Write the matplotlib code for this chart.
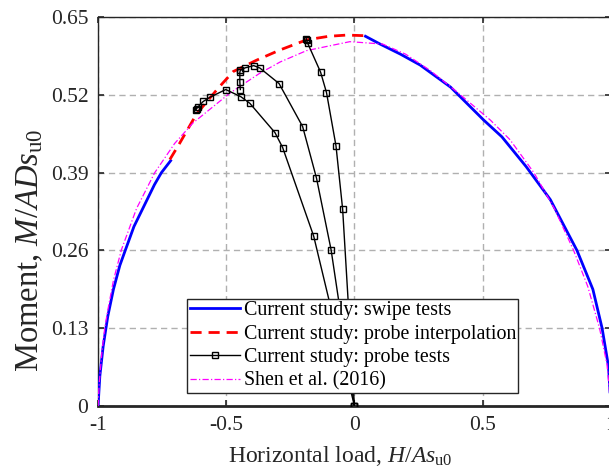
import numpy as np
import matplotlib
matplotlib.use('Agg')
import matplotlib.pyplot as plt

plt.rcParams['font.family'] = ['Liberation Serif', 'DejaVu Serif']
plt.rcParams['mathtext.fontset'] = 'custom'
plt.rcParams['mathtext.rm'] = 'Liberation Serif'
plt.rcParams['mathtext.it'] = 'Liberation Serif:italic'

# swipe tests, left and right branches of the envelope
swipe_left_H = [-1.0, -0.993, -0.98, -0.962, -0.94, -0.915, -0.894, -0.86, -0.82, -0.78, -0.753, -0.717]
swipe_left_M = [0.0, 0.05, 0.10, 0.15, 0.195, 0.235, 0.26, 0.30, 0.335, 0.37, 0.39, 0.41]
swipe_right_H = [0.043, 0.10, 0.18, 0.256, 0.375, 0.504, 0.575, 0.67, 0.764, 0.868, 0.93, 0.966, 0.991, 1.0]
swipe_right_M = [0.618, 0.605, 0.588, 0.570, 0.533, 0.478, 0.450, 0.400, 0.345, 0.260, 0.195, 0.130, 0.066, 0.0]

# probe interpolation
interp_H = [-0.72, -0.682, -0.616, -0.532, -0.473, -0.382, -0.291, -0.187, -0.10, -0.03, 0.04]
interp_M = [0.412, 0.439, 0.488, 0.531, 0.559, 0.578, 0.595, 0.612, 0.618, 0.620, 0.619]

# probe tests (load paths from the origin)
probe1_H = [0.0, -0.046, -0.072, -0.109, -0.132, -0.183, -0.186, -0.188]
probe1_M = [0.0, 0.329, 0.435, 0.524, 0.558, 0.607, 0.611, 0.614]
probe2_H = [0.0, -0.091, -0.148, -0.202, -0.294, -0.369, -0.393, -0.428, -0.445, -0.447, -0.447, -0.445]
probe2_M = [0.0, 0.261, 0.381, 0.467, 0.539, 0.565, 0.569, 0.565, 0.561, 0.558, 0.542, 0.529]
probe3_H = [0.0, -0.159, -0.28, -0.31, -0.408, -0.443, -0.502, -0.564, -0.59, -0.61, -0.616, -0.618]
probe3_M = [0.0, 0.284, 0.432, 0.457, 0.506, 0.517, 0.529, 0.516, 0.509, 0.500, 0.497, 0.495]

# Shen et al. (2016)
shen_H = [-1.0, -0.995, -0.985, -0.974, -0.962, -0.94, -0.909, -0.85, -0.779, -0.701, -0.63, -0.486,
          -0.37, -0.29, -0.187, -0.018, 0.11, 0.20, 0.295, 0.40, 0.53, 0.607, 0.70, 0.78, 0.855,
          0.91, 0.956, 0.985, 1.0]
shen_M = [0.0, 0.04, 0.09, 0.13, 0.16, 0.21, 0.261, 0.33, 0.39, 0.439, 0.473, 0.523,
          0.556, 0.575, 0.594, 0.609, 0.605, 0.588, 0.561, 0.525, 0.478, 0.445, 0.39, 0.33, 0.26,
          0.20, 0.13, 0.07, 0.0]

fig = plt.figure(figsize=(6.09, 4.76), dpi=100)
ax = fig.add_axes([0.161, 0.147, 0.842, 0.817])

ax.plot(swipe_left_H, swipe_left_M, color='#0000ff', lw=2.0, label='Current study: swipe tests', zorder=3)
ax.plot(swipe_right_H, swipe_right_M, color='#0000ff', lw=2.0, zorder=3)
ax.plot(interp_H, interp_M, color='#ff0000', lw=2.0, dashes=(4, 2.5),
        label='Current study: probe interpolation', zorder=3)
probe_style = dict(color='black', lw=1.0, marker='s', markersize=5, mfc='none', mec='black', mew=1.0, zorder=4)
ax.plot(probe1_H, probe1_M, label='Current study: probe tests', **probe_style)
ax.plot(probe2_H, probe2_M, **probe_style)
ax.plot(probe3_H, probe3_M, **probe_style)
ax.plot(shen_H, shen_M, color='#ff00ff', lw=0.9, dashes=(5, 1.8, 1, 1.8),
        label='Shen et al. (2016)', zorder=3)

ax.set_xlim(-1, 1)
ax.set_ylim(0, 0.65)
ax.set_xticks([-1, -0.5, 0, 0.5, 1])
ax.set_xticklabels(['-1', '-0.5', '0', '0.5', '1'])
ax.set_yticks([0, 0.13, 0.26, 0.39, 0.52, 0.65])
ax.set_yticklabels(['0', '0.13', '0.26', '0.39', '0.52', '0.65'])
ax.tick_params(direction='in', length=4, width=1.2, top=True, right=True,
               labelsize=15.5, colors='#262626', pad=7)
ax.grid(True, color='#b0b0b0', lw=1.0, dashes=(4.5, 3))
for side in ax.spines.values():
    side.set_color('#262626')
    side.set_linewidth(1.0)
ax.spines['bottom'].set_linewidth(2.0)

ax.set_xlabel(r'Horizontal load, $H/As_{\rm u0}$', fontsize=17, color='#262626')
ax.set_ylabel(r'Moment, $M/ADs_{\rm u0}$', fontsize=23.5, color='#262626')
ax.xaxis.set_label_coords(0.472, -0.098)
ax.yaxis.set_label_coords(-0.104, 0.40)

leg = ax.legend(loc='lower left', bbox_to_anchor=(0.174, 0.033), borderaxespad=0,
                fontsize=14.4, fancybox=False, framealpha=1, edgecolor='#262626',
                handlelength=2.5, handletextpad=0.2, labelspacing=0.22, borderpad=0.12)
leg.get_frame().set_linewidth(1.0)

fig.savefig('out.png', dpi=100)
